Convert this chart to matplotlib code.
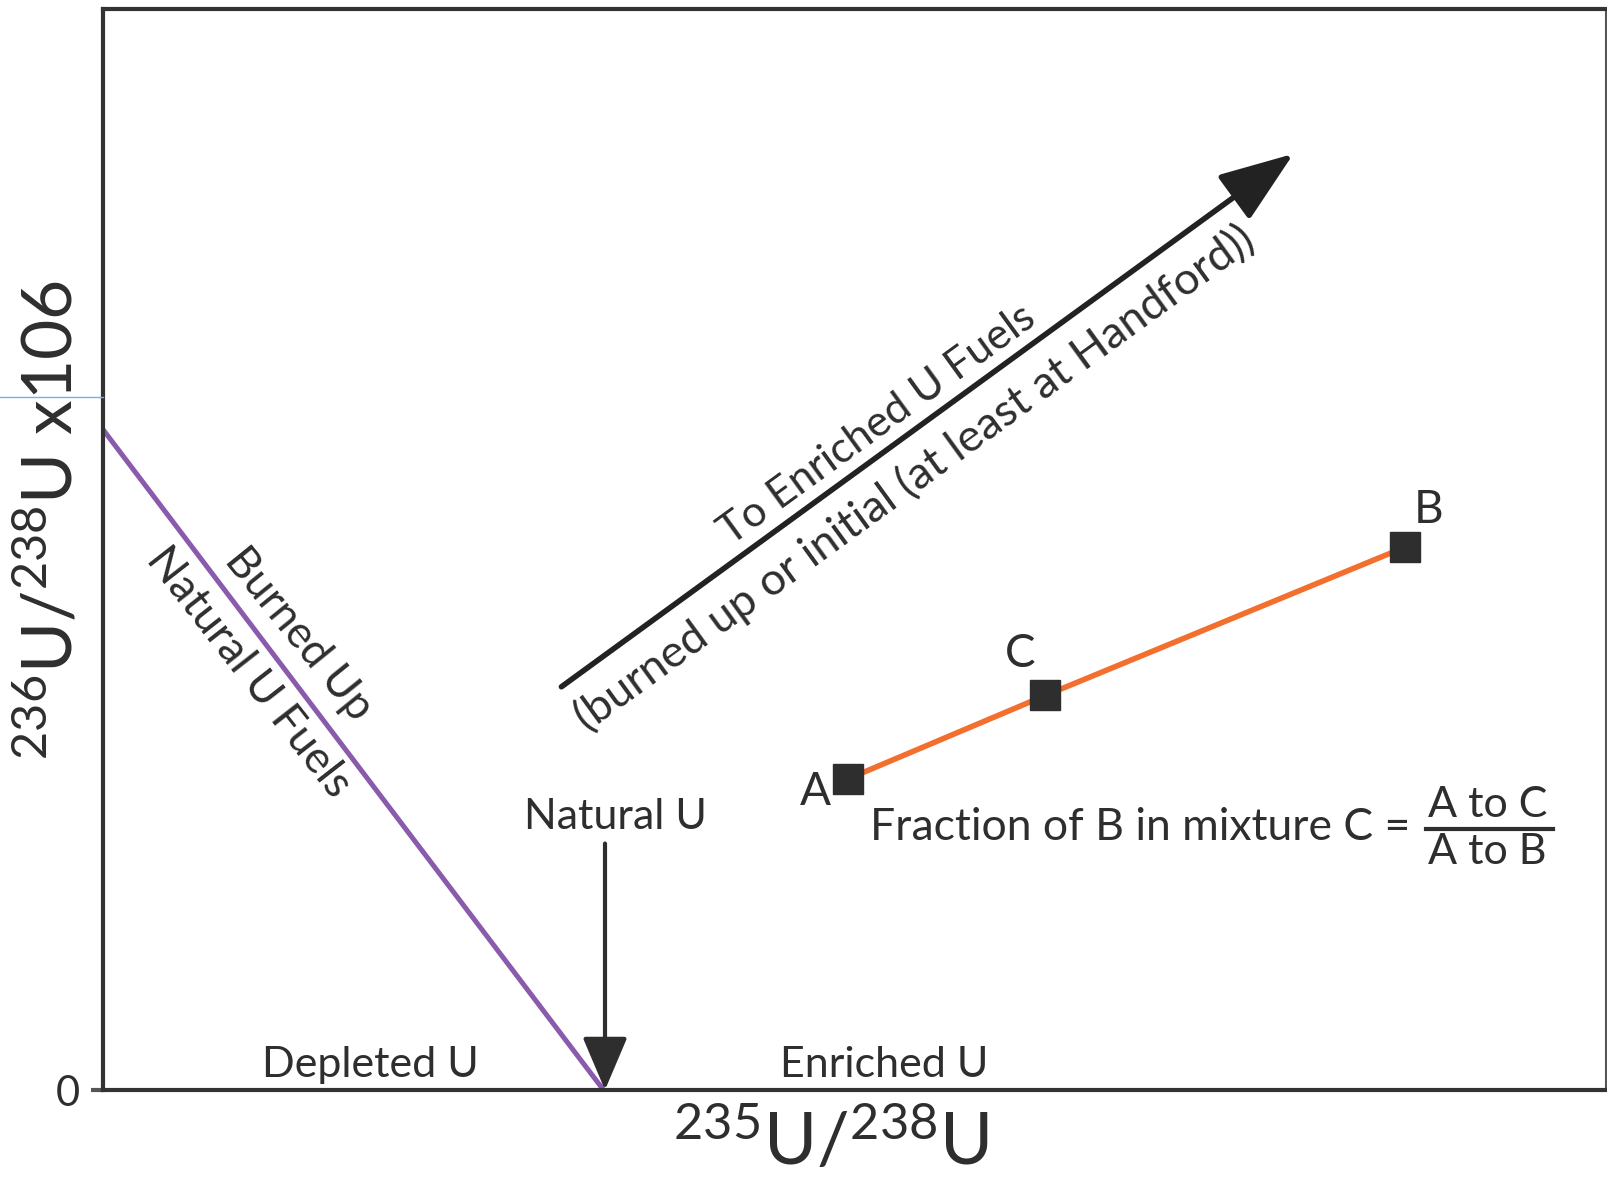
import matplotlib
matplotlib.use("Agg")
import matplotlib.pyplot as plt
from matplotlib.lines import Line2D

plt.rcParams['font.family'] = ['Lato', 'DejaVu Sans']
plt.rcParams['mathtext.fontset'] = 'custom'
plt.rcParams['mathtext.rm'] = 'Lato'
plt.rcParams['mathtext.it'] = 'Lato:italic'
plt.rcParams['mathtext.bf'] = 'Lato:bold'

# mixing line A - C - B (arbitrary units, axes run 0..100)
mix_labels = ['A', 'C', 'B']
mix_x = [49.6, 62.7, 86.6]
mix_y = [28.8, 36.5, 50.2]

# burned-up natural U fuels trend
burn_x = [0.0, 33.3]
burn_y = [61.1, 0.0]

# natural U marker and enriched-fuel direction
natural_u_x = 33.4
natural_u_top = 22.8
enriched_start = (30.5, 37.3)
enriched_end = (79.2, 86.6)

dark = '#2e2e2e'
fig = plt.figure(figsize=(16.08, 11.77), dpi=100)
ax = fig.add_axes([103 / 1608, 1 - 1090 / 1177, 1503 / 1608, 1081 / 1177])
ax.set_xlim(0, 100)
ax.set_ylim(0, 100)

ax.plot(burn_x, burn_y, color='#8a5aad', lw=3.6, solid_capstyle='butt')
ax.plot(mix_x, mix_y, color='#f26f2e', lw=4, zorder=2)
ax.plot(mix_x, mix_y, ls='none', marker='s', ms=22, color=dark, zorder=3)

label_off = {'A': (-2.2, -1.2), 'C': (-1.7, 3.8), 'B': (1.6, 3.5)}
for lab, x, y in zip(mix_labels, mix_x, mix_y):
    dx, dy = label_off[lab]
    ax.text(x + dx, y + dy, lab, fontsize=33, color=dark, ha='center', va='center')

ax.annotate('', xy=(natural_u_x, 0), xytext=(natural_u_x, natural_u_top),
            arrowprops=dict(arrowstyle='-|>,head_length=3.3,head_width=1.4',
                            mutation_scale=10, lw=3, color=dark,
                            shrinkA=0, shrinkB=0))
ax.annotate('', xy=enriched_end, xytext=enriched_start,
            arrowprops=dict(arrowstyle='-|>,head_length=4.6,head_width=1.7',
                            mutation_scale=10, lw=4, color='#222222',
                            shrinkA=0, shrinkB=0))

ax.text(34.1, 25.3, 'Natural U', fontsize=31, color=dark, ha='center', va='center')
ax.text(17.8, 2.3, 'Depleted U', fontsize=31, color=dark, ha='center', va='center')
ax.text(52.0, 2.3, 'Enriched U', fontsize=31, color=dark, ha='center', va='center')

ax.text(51.5, 61.5, 'To Enriched U Fuels', fontsize=31, color=dark,
        ha='center', va='center', rotation=36, rotation_mode='anchor')
ax.text(54.0, 56.6, '(burned up or initial (at least at Handford))', fontsize=32.5,
        color=dark, ha='center', va='center', rotation=36, rotation_mode='anchor')
ax.text(13.0, 42.2, 'Burned Up', fontsize=31.5, color=dark,
        ha='center', va='center', rotation=-51, rotation_mode='anchor')
ax.text(9.7, 38.6, 'Natural U Fuels', fontsize=32, color=dark,
        ha='center', va='center', rotation=-52, rotation_mode='anchor')

ax.text(51.0, 24.3, 'Fraction of B in mixture C =', fontsize=32, color=dark,
        ha='left', va='center')
ax.text(92.1, 26.4, 'A to C', fontsize=31, color=dark, ha='center', va='center')
ax.text(92.1, 22.0, 'A to B', fontsize=31, color=dark, ha='center', va='center')
ax.plot([88.0, 96.5], [24.1, 24.1], color=dark, lw=3)

ax.set_xticks([])
ax.set_yticks([0])
ax.set_yticklabels(['0'], fontsize=30, color=dark)
ax.tick_params(axis='y', length=9, width=3, color='#555555', pad=8)
for side in ['left', 'bottom', 'top']:
    ax.spines[side].set_linewidth(3)
    ax.spines[side].set_color('#333333')
ax.spines['right'].set_linewidth(1.5)
ax.spines['right'].set_color('#555555')

fig.text(0.0317, 0.558, r'$^{236}$U/$^{238}$U x106', fontsize=50, color=dark,
         rotation=90, ha='center', va='center')
fig.text(0.517, 0.030, r'$^{235}$U/$^{238}$U', fontsize=52, color=dark,
         ha='center', va='center')

# stray guide line left of the axis in the original
fig.add_artist(Line2D([0, 103 / 1608], [1 - 397 / 1177] * 2, color='#7aaee0', lw=1))

fig.savefig('out.png', dpi=100)
